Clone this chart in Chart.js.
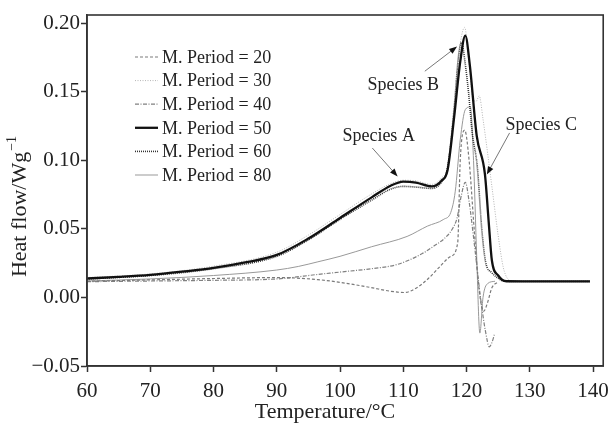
<!DOCTYPE html>
<html>
<head>
<meta charset="utf-8">
<script src="https://cdn.jsdelivr.net/npm/chart.js@4.4.0/dist/chart.umd.min.js"></script>
<style>
  body { margin: 0; background: #fff; }
  #chart { display: block; }
</style>
</head>
<body>
<canvas id="chart" width="616" height="425"></canvas>
<script>
// Tick values
const tempTicks = [60, 70, 80, 90, 100, 110, 120, 130, 140];
const flowTicks = [-0.05, 0.00, 0.05, 0.10, 0.15, 0.20];

// Heat flow (W/g) against temperature (°C), one pair per modulation period
const temp20 = [60, 70, 80, 90, 96.5, 100, 104.8, 108, 110.2, 112.2, 114, 115.8, 117.5, 118.6, 119, 119.7, 120.4, 121.2, 122, 122.7, 123.3, 124, 125];
const flow20 = [0.0118, 0.0128, 0.0138, 0.0145, 0.0130, 0.0110, 0.0073, 0.0045, 0.0036, 0.0073, 0.0140, 0.0226, 0.0300, 0.0400, 0.1000, 0.1220, 0.1000, 0.0500, 0.0050, -0.0100, -0.0040, 0.0070, 0.0115];

const temp30 = [60, 70, 80, 90, 95, 100, 105, 108, 110, 112, 114.5, 116, 117, 118, 119, 119.7, 120.4, 121, 121.5, 122, 122.6, 124, 125, 125.8, 126.5, 127.2, 130];
const flow30 = [0.0145, 0.0172, 0.0228, 0.0330, 0.0455, 0.0605, 0.0755, 0.0830, 0.0855, 0.0850, 0.0825, 0.0870, 0.0960, 0.1400, 0.1850, 0.1970, 0.1700, 0.1450, 0.1430, 0.1470, 0.1300, 0.0810, 0.0450, 0.0220, 0.0135, 0.0118, 0.0117];

const temp40 = [60, 70, 80, 90, 96.5, 100, 105, 109, 113, 115, 116.5, 117.7, 118.5, 119.2, 119.8, 120.4, 121.2, 122.2, 123, 123.6, 124, 124.4];
const flow40 = [0.0115, 0.0120, 0.0125, 0.0135, 0.0168, 0.0185, 0.0210, 0.0240, 0.0320, 0.0380, 0.0430, 0.0496, 0.0580, 0.0750, 0.0840, 0.0700, 0.0400, 0.0000, -0.0250, -0.0360, -0.0330, -0.0270];

const temp50 = [60, 65, 70, 75, 80, 85, 90, 95, 100, 105, 108, 110, 112, 114.5, 116, 117, 118, 119, 119.8, 120.5, 121.6, 122.9, 123.5, 124, 125, 126.3, 130, 135, 139.5];
const flow50 = [0.0138, 0.0150, 0.0165, 0.0188, 0.0215, 0.0255, 0.0310, 0.0430, 0.0580, 0.0730, 0.0815, 0.0845, 0.0838, 0.0810, 0.0850, 0.0930, 0.1300, 0.1720, 0.1910, 0.1700, 0.1180, 0.0900, 0.0550, 0.0270, 0.0160, 0.0118, 0.0117, 0.0117, 0.0117];

const temp60 = [60, 70, 80, 90, 95, 100, 105, 108, 110, 112, 114.5, 116, 117, 118, 118.7, 119.2, 119.8, 120.3, 120.9, 121.7, 122.4, 123, 124, 125, 126, 130, 139.5];
const flow60 = [0.0135, 0.0160, 0.0210, 0.0300, 0.0420, 0.0570, 0.0710, 0.0790, 0.0810, 0.0805, 0.0795, 0.0840, 0.0950, 0.1350, 0.1750, 0.1860, 0.1700, 0.1500, 0.1200, 0.0950, 0.0500, 0.0260, 0.0180, 0.0140, 0.0118, 0.0117, 0.0117];

const temp80 = [60, 70, 80, 90, 93.4, 96.5, 100, 105, 110.6, 113.8, 116.4, 117.5, 118.2, 119, 119.8, 120.6, 121.1, 121.6, 122.1, 122.6, 123.3, 124.5];
const flow80 = [0.0120, 0.0135, 0.0160, 0.0200, 0.0226, 0.0260, 0.0300, 0.0370, 0.0445, 0.0520, 0.0570, 0.0620, 0.0770, 0.1150, 0.1370, 0.1390, 0.1000, 0.0300, -0.0260, 0.0000, 0.0100, 0.0118];

const toPoints = (xs, ys) => xs.map((x, i) => ({ x: x, y: ys[i] }));

const serif = 'Liberation Serif, Times New Roman, serif';
const ink = '#222';

function curve(label, xs, ys, color, width, dash, order) {
    return {
        label: label,
        data: toPoints(xs, ys),
        borderColor: color,
        borderWidth: width,
        borderDash: dash,
        showLine: true,
        pointRadius: 0,
        cubicInterpolationMode: 'monotone',
        order: order
    };
}

// Labels with arrows, in data units
const notes = [
    { text: 'Species A', tx: 106.1, ty: 0.1174, x0: 105.1, y0: 0.109, x1: 109.1, y1: 0.0882 },
    { text: 'Species B', tx: 110.0, ty: 0.1545, x0: 113.4, y0: 0.165, x1: 118.5, y1: 0.183 },
    { text: 'Species C', tx: 131.8, ty: 0.1254, x0: 126.8, y0: 0.120, x1: 123.2, y1: 0.0897 }
];

const decor = {
    id: 'decor',
    afterDraw(chart) {
        const c = chart.ctx;
        const a = chart.chartArea;
        const xs = chart.scales.x, ys = chart.scales.y;
        c.save();

        // box around the plot
        c.strokeStyle = '#333';
        c.lineWidth = 1.6;
        c.setLineDash([]);
        c.strokeRect(a.left, a.top, a.right - a.left, a.bottom - a.top);

        // legend
        c.font = '18px ' + serif;
        c.textBaseline = 'middle';
        c.textAlign = 'left';
        chart.data.datasets.forEach((ds, i) => {
            const y = 57 + i * 23.6;
            c.strokeStyle = ds.borderColor;
            c.lineWidth = ds.borderWidth;
            c.setLineDash(ds.borderDash);
            c.beginPath();
            c.moveTo(135, y);
            c.lineTo(158, y);
            c.stroke();
            c.fillStyle = ink;
            c.fillText(ds.label, 162, y + 1);
        });
        c.setLineDash([]);

        // species labels
        notes.forEach(n => {
            c.fillStyle = ink;
            c.textAlign = 'center';
            c.fillText(n.text, xs.getPixelForValue(n.tx), ys.getPixelForValue(n.ty));
            const px0 = xs.getPixelForValue(n.x0), py0 = ys.getPixelForValue(n.y0);
            const px1 = xs.getPixelForValue(n.x1), py1 = ys.getPixelForValue(n.y1);
            const ang = Math.atan2(py1 - py0, px1 - px0);
            c.strokeStyle = '#777';
            c.lineWidth = 1;
            c.beginPath();
            c.moveTo(px0, py0);
            c.lineTo(px1 - 6 * Math.cos(ang), py1 - 6 * Math.sin(ang));
            c.stroke();
            c.fillStyle = '#111';
            c.beginPath();
            c.moveTo(px1, py1);
            c.lineTo(px1 - 8 * Math.cos(ang) + 3 * Math.sin(ang), py1 - 8 * Math.sin(ang) - 3 * Math.cos(ang));
            c.lineTo(px1 - 8 * Math.cos(ang) - 3 * Math.sin(ang), py1 - 8 * Math.sin(ang) + 3 * Math.cos(ang));
            c.closePath();
            c.fill();
        });

        // axis titles
        c.fillStyle = ink;
        c.font = '22px ' + serif;
        c.textAlign = 'center';
        c.textBaseline = 'middle';
        c.fillText('Temperature/°C', 325, 412);

        const main = 'Heat flow/Wg';
        const sup = '−1';
        c.translate(20, 207);
        c.rotate(-Math.PI / 2);
        const w1 = c.measureText(main).width;
        c.font = '14px ' + serif;
        const w2 = c.measureText(sup).width;
        const start = -(w1 + w2) / 2;
        c.textAlign = 'left';
        c.font = '22px ' + serif;
        c.fillText(main, start, 0);
        c.font = '14px ' + serif;
        c.fillText(sup, start + w1 + 1, -8);
        c.restore();
    }
};

const ctx = document.getElementById('chart').getContext('2d');
const chart = new Chart(ctx, {
    type: 'scatter',
    data: {
        datasets: [
            curve('M. Period = 20', temp20, flow20, '#7a7a7a', 1.2, [3, 2], 2),
            curve('M. Period = 30', temp30, flow30, '#b4b4b4', 1, [1, 1.5], 3),
            curve('M. Period = 40', temp40, flow40, '#808080', 1.2, [4, 1.5, 1, 1.5], 2),
            curve('M. Period = 50', temp50, flow50, '#111', 2.3, [], 0),
            curve('M. Period = 60', temp60, flow60, '#333', 1.6, [1, 1], 1),
            curve('M. Period = 80', temp80, flow80, '#999', 1, [], 2)
        ]
    },
    options: {
        responsive: false,
        animation: false,
        layout: { padding: { top: 15, right: 8, left: 0, bottom: 0 } },
        plugins: {
            legend: { display: false },
            tooltip: { enabled: false }
        },
        scales: {
            x: {
                type: 'linear',
                min: 60,
                max: 141.6,
                afterBuildTicks: s => { s.ticks = tempTicks.map(v => ({ value: v })); },
                afterFit: s => { s.height = 59; },
                grid: { drawOnChartArea: false, tickLength: 6, color: '#333', tickWidth: 1.5 },
                border: { color: '#333', width: 1.6 },
                ticks: { font: { family: serif, size: 21 }, color: ink, padding: 7, maxRotation: 0 }
            },
            y: {
                type: 'linear',
                min: -0.05,
                max: 0.206,
                afterBuildTicks: s => { s.ticks = flowTicks.map(v => ({ value: v })); },
                afterFit: s => { s.width = 87; },
                grid: { drawOnChartArea: false, tickLength: 6, color: '#333', tickWidth: 1.5 },
                border: { color: '#333', width: 1.6 },
                ticks: {
                    font: { family: serif, size: 21 },
                    color: ink,
                    padding: 1,
                    callback: v => (v < 0 ? '−' : '') + Math.abs(v).toFixed(2)
                }
            }
        }
    },
    plugins: [decor]
});
</script>
</body>
</html>
